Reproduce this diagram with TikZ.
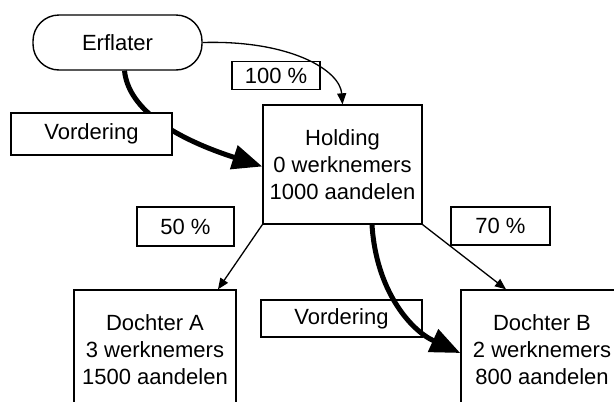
\documentclass[tikz,border=0pt]{standalone}
\usepackage{fontspec}
\setmainfont{Liberation Sans}
\usetikzlibrary{arrows.meta}
\begin{document}
\begin{tikzpicture}[x=1pt,y=-1pt,
  every node/.style={font=\fontsize{22}{27}\selectfont, align=center, inner sep=0pt},
  box/.style={draw, line width=1.4pt, fill=white, rectangle},
  pct/.style={box},
  thinarrow/.style={line width=1.3pt, -{Triangle[length=11pt,width=9pt]}},
  thickarrow/.style={line width=5pt, -{Triangle[length=30pt,width=24pt]}}]
  \useasboundingbox (0,0) rectangle (614,402);
  \clip (0,0) rectangle (614,402);

  % entities
  \node[box, rounded corners=26pt, minimum width=169pt, minimum height=55pt] (erf) at (117.5,42.5) {Erflater};
  \node[box, minimum width=159pt, minimum height=119pt] (hold) at (342.5,164.5)
    {Holding\\0 werknemers\\1000 aandelen};
  \node[box, minimum width=162pt, minimum height=120pt] (dA) at (155,350)
    {Dochter A\\3 werknemers\\1500 aandelen};
  \node[box, minimum width=162pt, minimum height=120pt] (dB) at (542,350)
    {Dochter B\\2 werknemers\\800 aandelen};

  % share labels
  \node[pct, minimum width=88pt, minimum height=28pt] (p100) at (276,75.5) {100 \%};
  \node[pct, minimum width=97pt, minimum height=39pt] (p50) at (185.5,226.5) {50 \%};
  \node[pct, minimum width=99pt, minimum height=38pt] (p70) at (500.5,226) {70 \%};
  \node[box, minimum width=161pt, minimum height=37pt] (vord2) at (341.5,318.5) {Vordering};

  % claim of the testator on the holding, running behind its label
  \coordinate (e1) at ([xshift=7pt]erf.south);
  \coordinate (h1) at ([yshift=-2pt]hold.west);
  \draw[thickarrow] (e1) .. controls (128,105) and (165,135) .. (h1);
  \node[box, minimum width=161pt, minimum height=42pt] (vord1) at (91.5,134) {Vordering};

  % ownership
  \coordinate (h2) at (hold.north);
  \draw[thinarrow] (erf.east) .. controls (290,40) and (340,70) .. (h2);
  \coordinate (a1) at ([xshift=63pt]dA.north);
  \coordinate (b1) at ([xshift=-36pt]dB.north);
  \draw[thinarrow] (hold.south west) -- (a1);
  \draw[thinarrow] (hold.south east) -- (b1);

  % claim of the holding on Dochter B
  \coordinate (h3) at ([xshift=29.5pt]hold.south);
  \coordinate (b2) at ([yshift=-3pt]dB.west);
  \draw[thickarrow] (h3) .. controls (376,290) and (410,330) .. (b2);
\end{tikzpicture}
\end{document}
